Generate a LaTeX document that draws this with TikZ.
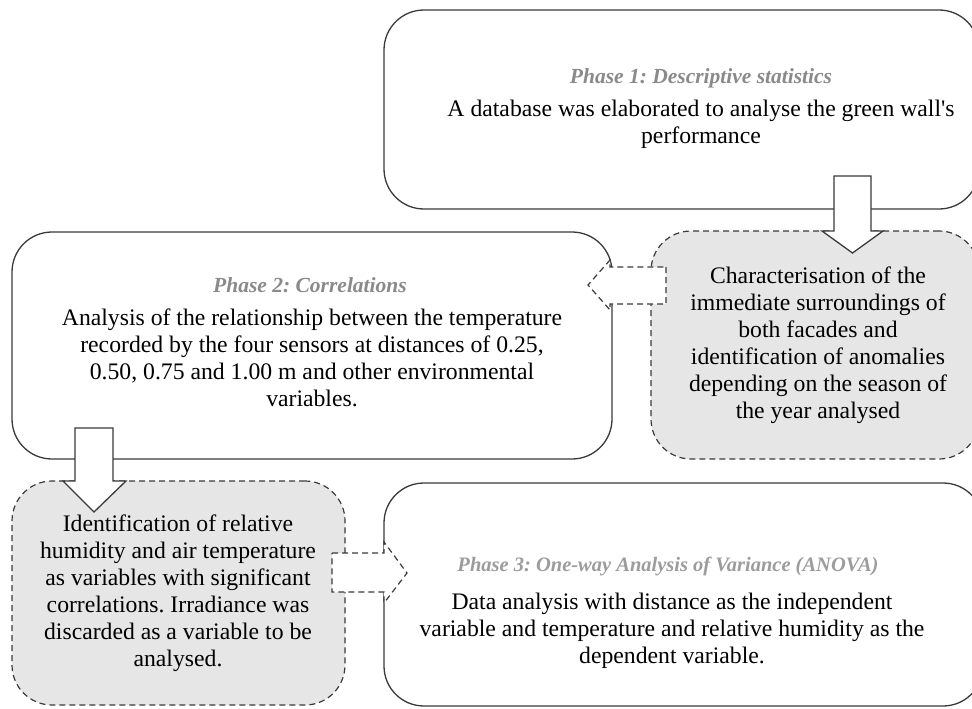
\documentclass[tikz,border=0pt]{standalone}
\usepackage{fontspec}
\setmainfont{Liberation Serif}[Ligatures=TeXOff]
\usetikzlibrary{calc}
\definecolor{edge}{HTML}{3A3A3A}
\definecolor{shade}{HTML}{E6E6E6}
\definecolor{titlegray}{HTML}{8A8A8A}
\definecolor{titlelight}{HTML}{9C9C9C}
\tikzset{
 phasebox/.style={draw=edge, line width=1.3pt, rounded corners=40pt, fill=white, inner sep=0pt},
 notebox/.style={draw=edge, line width=1.2pt, dash pattern=on 6pt off 4pt, rounded corners=40pt, fill=shade, inner sep=0pt},
 bodytext/.style={align=center, font=\frenchspacing\fontsize{23.7}{27}\selectfont, inner sep=0pt},
 titletext/.style={align=center, font=\frenchspacing\fontsize{21.5}{25}\selectfont\bfseries\itshape, text=titlegray, inner sep=0pt},
 solidarrow/.style={draw=edge, line width=1.3pt, fill=white, line join=miter},
 dasharrow/.style={draw=edge, line width=1.2pt, dash pattern=on 6pt off 4pt, fill=white},
}
\begin{document}
\begin{tikzpicture}[x=1pt,y=-1pt]
\useasboundingbox (0,0) rectangle (972,709);
\clip (0,0) rectangle (972,709);
% boxes
\node[phasebox, minimum width=595pt, minimum height=199pt] (p1) at (681.5,109.5) {};
\node[phasebox, minimum width=600pt, minimum height=227pt] (p2) at (312,345.5) {};
\node[notebox, minimum width=328pt, minimum height=228pt] (g1) at (815,345) {};
\node[notebox, minimum width=333pt, minimum height=224pt] (g2) at (178.5,593) {};
\node[phasebox, minimum width=599pt, minimum height=223pt] (p3) at (683.5,594.5) {};
% block arrows
\coordinate (a1tip) at (852.5,253);
\draw[solidarrow] (834,176) -- (871,176) -- (871,231) -- (883,231) -- (a1tip) -- (822,231) -- (834,231) -- cycle;
\coordinate (a2tip) at (588,285);
\draw[dasharrow] (666,267) -- (666,304) -- (610,304) -- (610,310) -- (a2tip) -- (610,260) -- (610,267) -- cycle;
\coordinate (a3tip) at (94,512);
\draw[solidarrow] (75,428) -- (113,428) -- (113,481) -- (126,481) -- (a3tip) -- (63,481) -- (75,481) -- cycle;
\coordinate (a4tip) at (407,573);
\draw[dasharrow] (332,553) -- (384,553) -- (384,542) -- (a4tip) -- (384,603) -- (384,592) -- (332,592) -- cycle;
% texts
\node[titletext] (t1) at (701,78) {Phase 1: Descriptive statistics};
\node[bodytext] (b1) at (701,124.5) {A database was elaborated to analyse the green wall's\\performance};
\node[titletext] (t2) at (310,285) {Phase 2: Correlations};
\node[bodytext] (b2) at (312,358) {Analysis of the relationship between the temperature\\recorded by the four sensors at distances of 0.25,\\0.50, 0.75 and 1.00 m and other environmental\\variables.};
\node[bodytext] (bg1) at (818,345) {Characterisation of the\\immediate surroundings of\\both facades and\\identification of anomalies\\depending on the season of\\the year analysed};
\node[bodytext] (bg2) at (178,593) {Identification of relative\\humidity and air temperature\\as variables with significant\\correlations. Irradiance was\\discarded as a variable to be\\analysed.};
\node[titletext, text=titlelight, font=\frenchspacing\fontsize{20.5}{24}\selectfont\bfseries\itshape] (t3) at (668,566) {Phase 3: One-way Analysis of Variance (ANOVA)};
\node[bodytext] (b3) at (672,631) {Data analysis with distance as the independent\\variable and temperature and relative humidity as the\\dependent variable.};
\end{tikzpicture}
\end{document}
